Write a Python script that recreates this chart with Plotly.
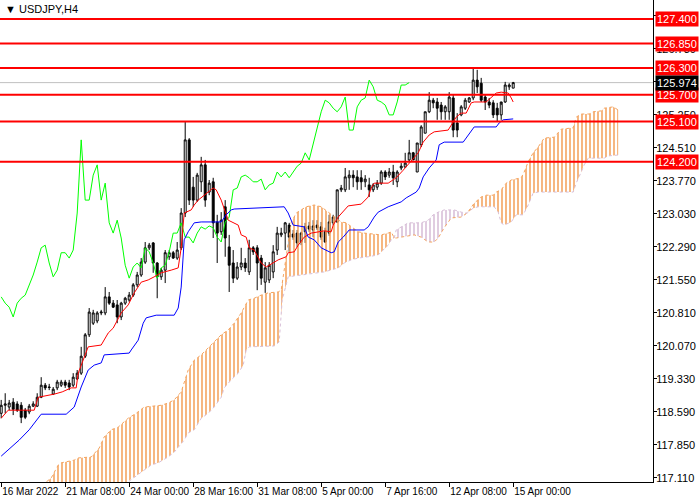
import plotly.graph_objects as go

# ----------------------------
# Price data (USDJPY, H4) - bar 0 = 16 Mar 2022 16:00
# ----------------------------
opens = [118.56, 118.74, 118.70, 118.81, 118.77, 118.74, 118.63, 118.59, 118.72, 118.72,
         118.92, 119.19, 119.15, 118.99, 119.13, 119.19, 119.26, 119.24, 119.19, 119.33,
         119.46, 119.84, 120.32, 120.58, 120.63, 120.81, 120.81, 121.17, 121.03, 120.99,
         120.72, 121.03, 121.10, 121.21, 121.44, 121.66, 121.95, 122.27, 122.38, 121.93,
         121.62, 121.77, 122.07, 122.16, 122.04, 122.27, 123.05, 124.69, 123.63, 123.34,
         123.75, 124.13, 123.52, 123.75, 122.85, 122.63, 123.19, 122.29, 121.93, 121.59,
         121.84, 121.93, 121.73, 122.27, 122.27, 122.04, 121.50, 121.55, 121.73, 122.22,
         122.56, 122.60, 122.78, 122.58, 122.60, 122.40, 122.63, 122.76, 122.67, 122.78,
         122.74, 122.63, 122.60, 122.83, 122.85, 123.57, 123.57, 123.84, 123.90, 123.86,
         123.84, 123.75, 123.68, 123.57, 123.63, 123.72, 123.97, 123.90, 123.97, 123.75,
         124.06, 124.08, 124.24, 124.40, 123.97, 124.58, 124.84, 125.32, 125.58, 125.54,
         125.47, 125.32, 125.32, 125.63, 125.07, 125.25, 125.40, 125.54, 125.63, 126.03,
         125.96, 125.65, 125.54, 125.52, 125.40, 125.25, 125.54, 125.88, 125.85]
highs = [118.86, 119.01, 118.86, 118.90, 118.83, 118.81, 118.68, 118.77, 118.83, 119.01,
         119.37, 119.24, 119.22, 119.15, 119.31, 119.31, 119.31, 119.31, 119.46, 119.53,
         120.05, 120.36, 120.92, 120.88, 120.85, 120.88, 121.39, 121.28, 121.10, 121.10,
         121.06, 121.17, 121.28, 121.48, 121.73, 122.04, 122.40, 122.38, 122.40, 121.95,
         121.82, 122.22, 122.22, 122.20, 122.40, 123.16, 125.09, 124.73, 123.86, 123.95,
         124.31, 124.24, 123.79, 123.84, 123.01, 123.07, 123.34, 122.56, 122.22, 121.95,
         122.27, 122.04, 122.45, 122.31, 122.33, 122.11, 121.95, 121.95, 122.33, 122.74,
         122.72, 122.85, 122.83, 122.67, 122.67, 122.63, 122.83, 122.85, 122.89, 122.89,
         122.85, 122.72, 123.01, 123.01, 123.57, 123.68, 124.06, 124.01, 124.01, 124.01,
         124.01, 123.90, 123.84, 123.72, 123.79, 124.01, 124.01, 124.06, 124.13, 124.01,
         124.17, 124.40, 124.69, 124.42, 124.62, 125.02, 125.32, 125.76, 125.63, 125.63,
         125.54, 125.47, 125.76, 125.70, 125.29, 125.47, 125.63, 125.65, 126.30, 126.26,
         126.08, 125.70, 125.63, 125.58, 125.52, 125.47, 125.99, 125.96, 125.99]
lows = [118.45, 118.56, 118.63, 118.52, 118.59, 118.34, 118.43, 118.54, 118.70, 118.70,
        118.90, 119.08, 119.08, 118.97, 119.08, 119.15, 119.13, 119.08, 119.15, 119.31,
        119.42, 119.80, 120.27, 120.54, 120.58, 120.76, 120.76, 120.99, 120.92, 120.58,
        120.65, 120.99, 121.06, 121.17, 121.39, 121.62, 121.91, 122.22, 121.71, 121.14,
        121.55, 121.48, 122.00, 122.02, 122.00, 122.22, 122.96, 123.23, 123.19, 123.30,
        123.52, 123.19, 123.45, 122.49, 121.93, 122.56, 122.07, 121.28, 121.48, 121.55,
        121.77, 121.73, 121.66, 122.11, 121.32, 121.44, 121.26, 121.48, 121.59, 122.11,
        122.51, 122.22, 122.18, 122.45, 122.29, 122.33, 122.38, 122.63, 122.51, 122.67,
        122.45, 122.38, 122.54, 122.78, 122.83, 123.52, 123.52, 123.57, 123.63, 123.57,
        123.57, 123.63, 123.41, 123.52, 123.57, 123.68, 123.79, 123.84, 123.68, 123.63,
        124.01, 124.06, 124.20, 124.24, 123.97, 124.53, 124.84, 125.29, 125.40, 125.14,
        125.14, 125.14, 125.14, 124.75, 124.75, 125.22, 125.36, 125.52, 125.58, 125.74,
        125.54, 125.36, 125.40, 125.18, 125.09, 125.14, 125.52, 125.81, 125.85]
closes = [118.74, 118.77, 118.79, 118.65, 118.63, 118.47, 118.47, 118.72, 118.77, 118.92,
          119.19, 119.13, 119.14, 119.10, 119.26, 119.26, 119.19, 119.15, 119.37, 119.46,
          119.84, 120.32, 120.83, 120.81, 120.81, 120.83, 121.17, 121.03, 120.94, 120.72,
          121.03, 121.14, 121.21, 121.44, 121.66, 121.95, 122.27, 122.33, 121.93, 121.62,
          121.77, 122.16, 122.16, 122.04, 122.22, 123.05, 124.69, 123.34, 123.34, 123.90,
          124.13, 123.34, 123.72, 122.83, 122.60, 122.89, 122.49, 121.88, 121.59, 121.84,
          121.93, 121.82, 122.27, 122.18, 121.93, 121.59, 121.82, 121.88, 122.18, 122.60,
          122.60, 122.83, 122.51, 122.51, 122.38, 122.60, 122.74, 122.69, 122.76, 122.72,
          122.51, 122.40, 122.85, 122.96, 123.57, 123.61, 123.86, 123.90, 123.84, 123.75,
          123.75, 123.81, 123.57, 123.68, 123.72, 123.97, 123.86, 123.97, 123.84, 123.97,
          124.10, 124.17, 124.40, 124.24, 124.62, 124.98, 125.32, 125.58, 125.52, 125.40,
          125.32, 125.43, 125.65, 124.91, 124.91, 125.43, 125.58, 125.63, 126.03, 125.88,
          125.58, 125.54, 125.47, 125.25, 125.25, 125.54, 125.92, 125.92, 125.974]
bars = list(range(len(closes)))

# ----------------------------
# Ichimoku lines (bar index, price)
# ----------------------------
tenkan_x = [0, 1.75, 8.25, 9.25, 13.25, 15.25, 17.5, 18.75, 19.25, 21.25,
            21.75, 25, 26.75, 28, 29.25, 30, 31.75, 33.25, 35, 36.75,
            38.25, 40, 42.5, 44.25, 45, 45.75, 47.5, 48.25, 49.25, 51.75,
            53, 53.75, 55, 56.75, 59.25, 60, 61.25, 62, 63.25, 65,
            66.25, 69.25, 71.25, 71.75, 73.25, 74.25, 75.75, 77.5, 80.75, 82.5,
            83, 84.25, 86.75, 90, 91.75, 92.5, 93.25, 96.75, 98.75, 100.5,
            102, 103, 104.25, 105.5, 107, 108.25, 111.75, 112.5, 113.75, 115,
            116.25, 117.5, 118.25, 121.25, 122.5, 123.75, 125, 126.75, 127.5, 128]
tenkan_y = [118.45, 118.63, 118.63, 118.92, 118.99, 119.04, 119.13, 119.13, 119.46, 119.91,
            120.05, 120.09, 120.36, 120.47, 120.70, 120.81, 120.99, 121.26, 121.50, 121.55,
            121.62, 121.71, 121.77, 121.82, 122.27, 123.05, 123.12, 123.23, 123.34, 123.52,
            123.61, 123.57, 123.34, 122.89, 122.78, 122.56, 122.51, 122.27, 122.22, 121.93,
            121.84, 122.00, 122.07, 122.16, 122.18, 122.33, 122.51, 122.60, 122.65, 122.63,
            122.78, 122.96, 123.21, 123.25, 123.41, 123.61, 123.72, 123.72, 123.84, 124.01,
            124.17, 124.28, 124.40, 124.64, 124.80, 124.87, 124.91, 125.02, 125.20, 125.29,
            125.29, 125.52, 125.54, 125.54, 125.65, 125.74, 125.76, 125.74, 125.63, 125.54]

kijun_x = [0, 4.5, 7, 8.25, 10, 16.25, 17.5, 18.25, 20, 21.75,
           23.25, 25, 25.75, 32, 32.5, 34.25, 35.5, 36.25, 38.75, 43.25,
           44.25, 45, 45.75, 46.75, 48.25, 50, 55, 56.25, 57.5, 58.25,
           70.75, 71.75, 73, 75.75, 76.75, 78.25, 80, 82.5, 83.25, 84.25,
           85.5, 87, 90.75, 91.75, 93.25, 94.25, 96.75, 98, 100, 101.25,
           103.75, 104.5, 105.5, 107, 108.75, 109.5, 110.75, 115.5, 116.75, 117.5,
           118.25, 123.75, 124.5, 125.5, 128]
kijun_y = [117.60, 117.96, 118.19, 118.34, 118.54, 118.54, 118.63, 118.70, 119.15, 119.53,
           119.64, 119.69, 119.87, 119.91, 119.98, 120.20, 120.58, 120.70, 120.76, 120.76,
           120.92, 121.39, 122.45, 122.63, 122.83, 122.85, 122.85, 123.01, 123.12, 123.14,
           123.19, 123.05, 122.78, 122.74, 122.51, 122.45, 122.27, 122.16, 122.18, 122.40,
           122.51, 122.67, 122.67, 122.74, 122.96, 123.07, 123.19, 123.23, 123.30, 123.39,
           123.52, 123.61, 123.86, 124.06, 124.24, 124.58, 124.64, 124.64, 124.80, 124.91,
           124.98, 124.98, 125.07, 125.14, 125.16]

span_a_x = [0, 7.5, 11.25, 12.5, 14.25, 15, 18.25, 19.25, 22.5, 24.5,
            25.75, 27.5, 29.25, 31.75, 33.75, 35.75, 40, 41.75, 43.25, 45,
            46.75, 48.25, 50, 51.75, 53.25, 55, 56.75, 58.25, 60, 61.75,
            63.25, 65, 66.75, 69.25, 70, 71.25, 72.5, 73.75, 75, 76.25,
            78.25, 80, 81.75, 83.25, 85, 86.25, 87.5, 89.25, 90.75, 95,
            96.75, 97.5, 98.25, 98.75, 100, 103.25, 105, 106.75, 108.25, 109.25,
            110.75, 111.75, 112.5, 115, 116.5, 118.25, 120, 121.25, 123, 123.75,
            125, 126.25, 127.5, 130, 130.75, 131.75, 133, 134.25, 135, 135.75,
            138.25, 139.25, 140, 143, 143.75, 145, 147, 148, 150, 150.75,
            153, 154.25]
span_a_y = [116.39, 116.73, 117.02, 117.11, 117.40, 117.45, 117.51, 117.56, 117.58, 117.78,
            118.03, 118.19, 118.25, 118.45, 118.56, 118.70, 118.74, 118.79, 118.86, 119.04,
            119.53, 119.75, 119.87, 120.02, 120.16, 120.32, 120.43, 120.58, 120.81, 121.10,
            121.14, 121.21, 121.26, 121.28, 121.32, 122.04, 122.83, 123.05, 123.12, 123.19,
            123.23, 123.19, 123.07, 122.96, 122.85, 122.83, 122.74, 122.63, 122.60, 122.56,
            122.60, 122.63, 122.49, 122.49, 122.51, 122.56, 122.51, 122.40, 122.40, 122.49,
            122.72, 122.85, 122.94, 122.96, 123.05, 123.27, 123.41, 123.45, 123.45, 123.52,
            123.57, 123.72, 123.79, 123.84, 123.97, 124.20, 124.40, 124.53, 124.62, 124.73,
            124.75, 124.84, 124.93, 124.96, 125.20, 125.27, 125.27, 125.32, 125.34, 125.40,
            125.43, 125.36]

span_b_x = [0, 25, 31.75, 33.25, 35, 37.5, 39.25, 41.75, 43.25, 45.75,
            46.75, 48.25, 50, 51.75, 53.25, 55, 55.75, 57.5, 59.25, 60.5,
            61.25, 62, 68.25, 69.5, 70.25, 71.75, 75, 78.25, 80.75, 84.25,
            85.75, 87.5, 89.25, 91.75, 94.25, 95, 96.75, 97.5, 98.25, 98.75,
            100, 101.75, 105, 106.75, 108, 109.25, 110.75, 113.25, 115, 116.5,
            118, 119.25, 123.25, 124.25, 125, 125.75, 127.5, 128.75, 130.5, 131.75,
            133, 134.25, 143, 143.75, 145, 145.75, 146.75, 150.75, 151.75, 154.25]
span_b_y = [115.27, 116.62, 117.02, 117.13, 117.24, 117.40, 117.45, 117.58, 117.69, 117.96,
            118.12, 118.19, 118.45, 118.56, 118.70, 118.92, 119.13, 119.31, 119.46, 119.64,
            119.98, 120.05, 120.07, 120.16, 121.10, 121.62, 121.66, 121.71, 121.73, 121.82,
            121.93, 122.00, 122.04, 122.07, 122.11, 122.18, 122.33, 122.45, 122.49, 122.67,
            122.74, 122.83, 122.83, 122.89, 123.01, 123.07, 123.12, 123.12, 123.07, 123.05,
            123.16, 123.19, 123.19, 123.07, 122.83, 122.78, 122.85, 123.01, 123.01, 123.23,
            123.50, 123.52, 123.52, 123.72, 123.97, 124.13, 124.28, 124.28, 124.33, 124.35]

# where span A and span B cross: bullish (sandybrown) / bearish (thistle) parts
cloud_breaks = [0, 98.25, 116.5, 154.25]
cloud_colors = ["#F4A460", "#D8BFD8", "#F4A460"]

# ----------------------------
# Levels, axis labels
# ----------------------------
levels = [127.400, 126.850, 126.300, 125.700, 125.100, 124.200]
last_price = 125.974
price_ticks = [117.110, 117.850, 118.590, 119.330, 120.070, 120.810, 121.550, 122.290,
               123.030, 123.770, 124.510, 125.250, 125.990, 126.730, 127.470]
date_ticks = [0, 16, 32, 48, 64, 80, 96, 112, 128]
date_labels = ["16 Mar 2022", "21 Mar 08:00", "24 Mar 00:00", "28 Mar 16:00", "31 Mar 08:00",
               "5 Apr 00:00", "7 Apr 16:00", "12 Apr 08:00", "15 Apr 00:00"]
chikou_shift = 26

FONT = "Liberation Sans"

fig = go.Figure()

# ----------------------------
# Kumo (hatched cloud)
# ----------------------------
for k, color in enumerate(cloud_colors):
    lo, hi = cloud_breaks[k], cloud_breaks[k + 1]
    ax = [x for x in span_a_x if lo <= x <= hi]
    ay = [y for x, y in zip(span_a_x, span_a_y) if lo <= x <= hi]
    bx = [x for x in span_b_x if lo <= x <= hi]
    by = [y for x, y in zip(span_b_x, span_b_y) if lo <= x <= hi]
    fig.add_trace(go.Scatter(
        x=ax + bx[::-1], y=ay + by[::-1], mode="lines", fill="toself",
        line=dict(width=0), fillcolor="rgba(0,0,0,0)",
        fillpattern=dict(shape="|", fgcolor=color, bgcolor="rgba(0,0,0,0)",
                         size=4, solidity=0.4, fgopacity=1),
        hoverinfo="skip"))

fig.add_trace(go.Scatter(x=span_a_x, y=span_a_y, mode="lines",
                         line=dict(color="#F4A460", width=1, dash="dot")))
fig.add_trace(go.Scatter(x=span_b_x, y=span_b_y, mode="lines",
                         line=dict(color="#D8BFD8", width=1, dash="dot")))

# ----------------------------
# Chikou, candles, Tenkan, Kijun
# ----------------------------
fig.add_trace(go.Scatter(x=bars[:len(bars) - chikou_shift], y=closes[chikou_shift:],
                         mode="lines", line=dict(color="#00FF00", width=1)))

fig.add_trace(go.Candlestick(
    x=bars, open=opens, high=highs, low=lows, close=closes,
    increasing=dict(line=dict(color="black", width=1), fillcolor="white"),
    decreasing=dict(line=dict(color="black", width=1), fillcolor="black"),
    whiskerwidth=0))

fig.add_trace(go.Scatter(x=tenkan_x, y=tenkan_y, mode="lines",
                         line=dict(color="#FF0000", width=1)))
fig.add_trace(go.Scatter(x=kijun_x, y=kijun_y, mode="lines",
                         line=dict(color="#0000FF", width=1)))

# ----------------------------
# Price line and horizontal levels
# ----------------------------
fig.add_shape(type="line", xref="paper", x0=0, x1=1, y0=last_price, y1=last_price,
              line=dict(color="#C0C0C0", width=1), layer="below")
for lvl in levels:
    fig.add_shape(type="line", xref="paper", x0=0, x1=1, y0=lvl, y1=lvl,
                  line=dict(color="#FF0000", width=2))
    fig.add_annotation(xref="paper", x=1, y=lvl, xanchor="left", yanchor="middle",
                       xshift=2, text=f"{lvl:.3f}", showarrow=False,
                       bgcolor="#FF0000", borderpad=1,
                       font=dict(family=FONT, size=11, color="white"))
fig.add_annotation(xref="paper", x=1, y=last_price, xanchor="left", yanchor="middle",
                   xshift=2, text=f"{last_price:.3f}", showarrow=False,
                   bgcolor="#000000", borderpad=1,
                   font=dict(family=FONT, size=11, color="white"))

fig.add_annotation(xref="paper", yref="paper", x=0, y=1, xanchor="left", yanchor="top",
                   xshift=3, yshift=-1, text="\u25bc USDJPY,H4", showarrow=False,
                   font=dict(family=FONT, size=11, color="black"))

fig.update_layout(
    width=700, height=500,
    margin=dict(l=0, r=47, t=0, b=18, autoexpand=False),
    paper_bgcolor="white", plot_bgcolor="white",
    showlegend=False, hovermode=False,
    font=dict(family=FONT, size=11, color="black"),
)
fig.update_xaxes(range=[-0.3, 162.95], showgrid=False, zeroline=False,
                 showline=True, linecolor="black", linewidth=1,
                 ticks="outside", ticklen=4, tickcolor="black",
                 tickvals=date_ticks, ticktext=date_labels, tickangle=0,
                 tickfont=dict(size=10),
                 ticklabelposition="outside right", automargin=False,
                 rangeslider=dict(visible=False))
fig.update_yaxes(range=[117.02, 127.826], side="right", showgrid=False, zeroline=False,
                 showline=True, linecolor="black", linewidth=1,
                 ticks="outside", ticklen=3, tickcolor="black", automargin=False,
                 ticklabelstandoff=-3,
                 tickvals=price_ticks, ticktext=[f"{t:.3f}" for t in price_ticks])

# no page margin, so the 700x500 figure fills the window
fig.write_html("out.html", config={"displayModeBar": False},
               post_script="document.body.style.margin='0';")
